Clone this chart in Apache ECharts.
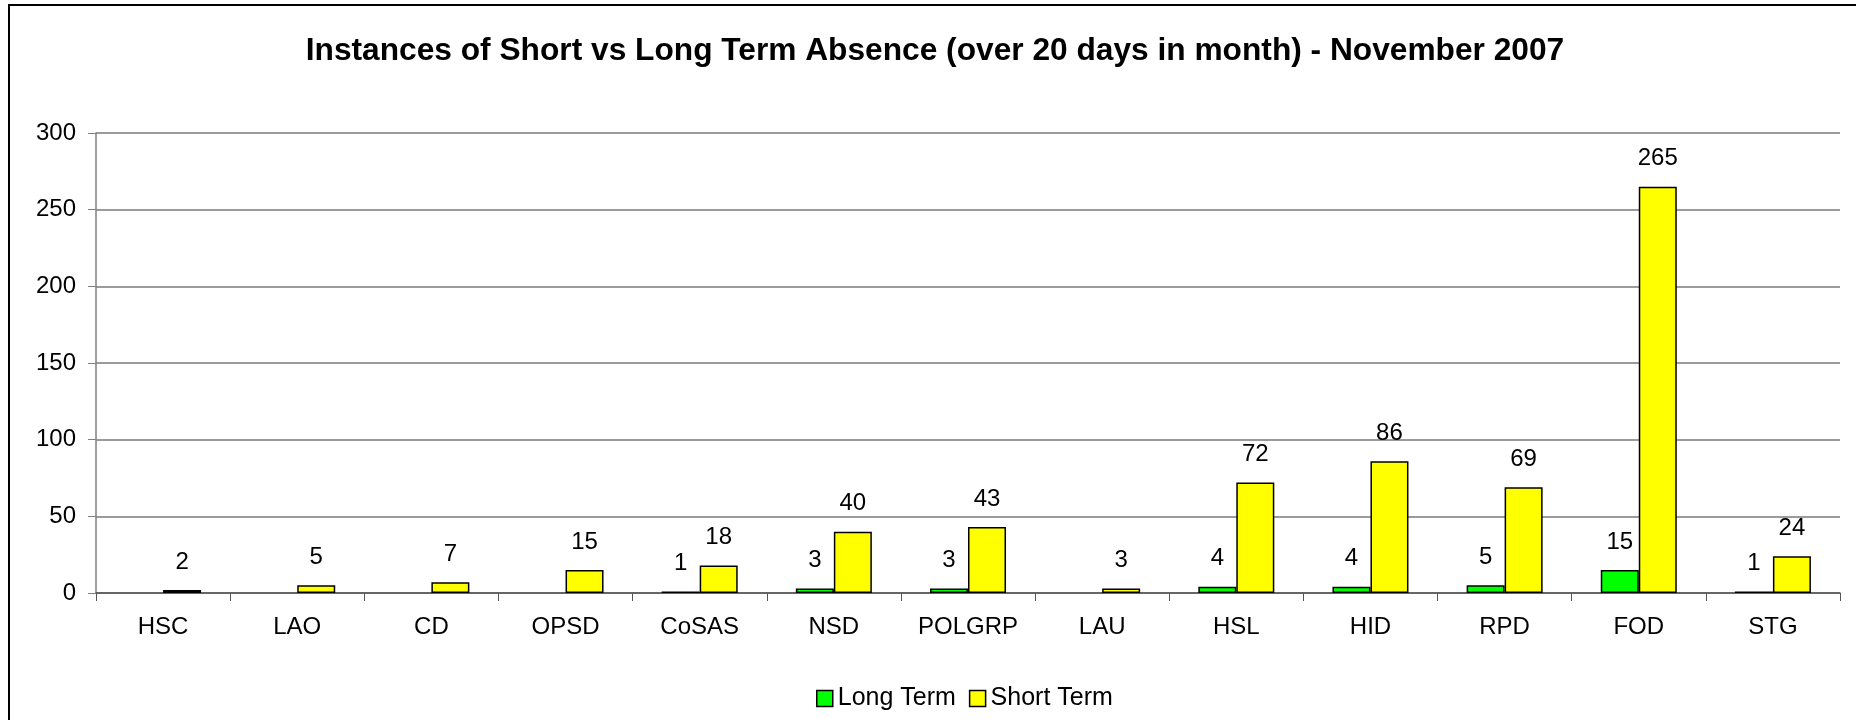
<!DOCTYPE html>
<html>
<head>
<meta charset="utf-8">
<title>Short vs Long Term Absence</title>
<script src="https://cdn.jsdelivr.net/npm/echarts/dist/echarts.min.js"></script>
<style>
  html, body { margin: 0; padding: 0; background: #fff; }
  #myChart { width: 1856px; height: 720px; }
</style>
</head>
<body>
<div id="myChart"></div>
<script>
// data
var categories = ["HSC", "LAO", "CD", "OPSD", "CoSAS", "NSD", "POLGRP", "LAU", "HSL", "HID", "RPD", "FOD", "STG"];
var longTerm = ["-", "-", "-", "-", 1, 3, 3, "-", 4, 4, 5, 15, 1];
var shortTerm = [2, 5, 7, 15, 18, 40, 43, 3, 72, 86, 69, 265, 24];
var yTicks = [0, 50, 100, 150, 200, 250, 300];

var font = "Liberation Sans, Arial, sans-serif";

function barSeries(name, data, color) {
  return {
    name: name,
    type: "bar",
    data: data,
    barWidth: 38,
    barGap: "0%",
    itemStyle: { color: color, borderColor: "#000", borderWidth: 1.5 },
    label: {
      show: true,
      position: "top",
      distance: 16,
      color: "#000",
      fontFamily: font,
      fontSize: 24
    }
  };
}

var option = {
  animation: false,
  backgroundColor: "#fff",
  textStyle: { fontFamily: font },
  // outer chart frame
  graphic: [{
    type: "rect",
    shape: { x: 9, y: 5, width: 1870, height: 800 },
    style: { fill: "none", stroke: "#000", lineWidth: 2 },
    silent: true
  }],
  title: {
    text: "Instances of Short vs Long Term Absence (over 20 days in month) - November 2007",
    left: 930,
    top: 30,
    textAlign: "center",
    textStyle: { fontFamily: font, fontSize: 31.7, fontWeight: "bold", color: "#000" }
  },
  legend: {
    left: 816,
    top: 686,
    padding: 0,
    itemWidth: 16,
    itemHeight: 16,
    itemGap: 13,
    icon: "rect",
    data: ["Long Term", "Short Term"],
    itemStyle: { borderColor: "#000", borderWidth: 1.5 },
    textStyle: { fontFamily: font, fontSize: 25, color: "#000" }
  },
  grid: { left: 96, right: 16, top: 133, bottom: 127 },
  xAxis: {
    type: "category",
    data: categories,
    axisLine: { lineStyle: { color: "#555", width: 1.5 } },
    axisTick: { show: true, length: 8, lineStyle: { color: "#555" } },
    axisLabel: { margin: 22, color: "#000", fontFamily: font, fontSize: 24, interval: 0 }
  },
  yAxis: {
    type: "value",
    min: yTicks[0],
    max: yTicks[yTicks.length - 1],
    interval: yTicks[1] - yTicks[0],
    axisLine: { show: true, lineStyle: { color: "#808080", width: 1.5 } },
    axisTick: { show: true, length: 8, lineStyle: { color: "#808080" } },
    axisLabel: { margin: 20, color: "#000", fontFamily: font, fontSize: 24 },
    splitLine: { show: true, lineStyle: { color: "#7a7a7a", width: 1.5 } }
  },
  series: [
    barSeries("Long Term", longTerm, "#00ff00"),
    barSeries("Short Term", shortTerm, "#ffff00")
  ]
};

var myChart = echarts.init(document.getElementById("myChart"));
myChart.setOption(option);
</script>
</body>
</html>
